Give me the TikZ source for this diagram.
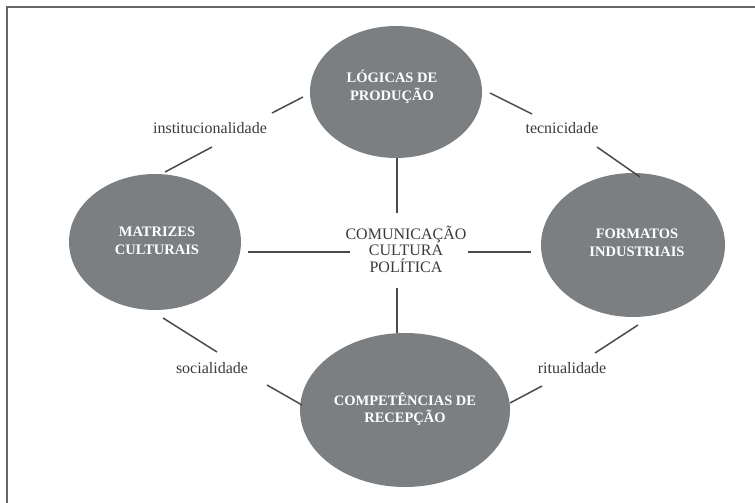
\documentclass[tikz,border=0pt]{standalone}
\usepackage{fontspec}
\setmainfont{Liberation Serif}
\usetikzlibrary{shapes.geometric}
\definecolor{ellgray}{HTML}{7C7F81}
\definecolor{linegray}{HTML}{4A4A4A}
\definecolor{txtgray}{HTML}{3A3A3A}
\definecolor{frame}{HTML}{666666}
\tikzset{
  blob/.style={ellipse, fill=ellgray, draw=none, inner sep=0pt, align=center,
    text=white, font=\fontsize{14.5}{17.5}\selectfont\bfseries},
  lbl/.style={inner sep=0pt, text=txtgray, font=\fontsize{16}{18}\selectfont},
  ctr/.style={inner sep=0pt, align=center, text=txtgray, font=\fontsize{16}{16.5}\selectfont},
  conn/.style={draw=linegray, line width=1.5pt},
}
\begin{document}
\begin{tikzpicture}[x=1pt,y=-1pt]
\useasboundingbox (0,0) rectangle (755,503);
\draw[frame, line width=1.4pt] (7,503) -- (7,7) -- (755,7);

% ellipses
\node[blob, minimum width=172pt, minimum height=132pt] (log) at (396,92) {};
\node[blob, minimum width=172pt, minimum height=136pt] (mat) at (155,242) {};
\node[blob, minimum width=184pt, minimum height=144pt] (for) at (633,245) {};
\node[blob, minimum width=210pt, minimum height=154pt] (com) at (405,410) {};

% ellipse texts
\node[blob, fill=none] (logt) at (392,87) {LÓGICAS DE\\PRODUÇÃO};
\node[blob, fill=none] (matt) at (157,241) {MATRIZES\\CULTURAIS};
\node[blob, fill=none] (fort) at (637,243) {FORMATOS\\INDUSTRIAIS};
\node[blob, fill=none] (comt) at (405,409) {COMPETÊNCIAS DE\\RECEPÇÃO};

% centre text
\node[ctr] (mid) at (406,249) {COMUNICAÇÃO\\CULTURA\\POLÍTICA};

% labels
\node[lbl] (ins) at (210,128) {institucionalidade};
\node[lbl] (tec) at (562,128) {tecnicidade};
\node[lbl] (soc) at (212,368) {socialidade};
\node[lbl] (rit) at (572,368) {ritualidade};

% connector end points
\coordinate (a1) at (303,97);  \coordinate (a2) at (272,113);
\coordinate (a3) at (212,147); \coordinate (a4) at (165,172);
\coordinate (b1) at (490,93);  \coordinate (b2) at (532,114);
\coordinate (b3) at (597,147); \coordinate (b4) at (640,177);
\coordinate (c1) at (163,318); \coordinate (c2) at (217,352);
\coordinate (c3) at (267,385); \coordinate (c4) at (302,405);
\coordinate (d1) at (638,325); \coordinate (d2) at (595,353);
\coordinate (d3) at (542,386); \coordinate (d4) at (510,403);
\coordinate (v1) at (397,158); \coordinate (v2) at (397,213);
\coordinate (v3) at (397,288); \coordinate (v4) at (397,333);
\coordinate (h1) at (248,252); \coordinate (h2) at (350,252);
\coordinate (h3) at (468,252); \coordinate (h4) at (531,252);

\draw[conn] (a1) -- (a2);
\draw[conn] (a3) -- (a4);
\draw[conn] (b1) -- (b2);
\draw[conn] (b3) -- (b4);
\draw[conn] (c1) -- (c2);
\draw[conn] (c3) -- (c4);
\draw[conn] (d1) -- (d2);
\draw[conn] (d3) -- (d4);
\draw[conn] (v1) -- (v2);
\draw[conn] (v3) -- (v4);
\draw[conn] (h1) -- (h2);
\draw[conn] (h3) -- (h4);
\end{tikzpicture}
\end{document}
